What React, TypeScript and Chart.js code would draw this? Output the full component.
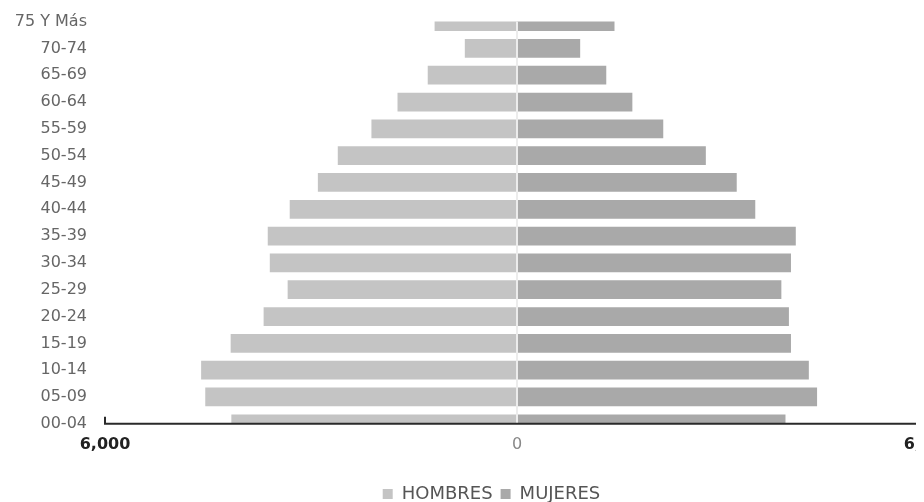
import React, { useEffect, useRef } from "react";
import { Chart, registerables } from "chart.js";

Chart.register(...registerables);

const categories = [
  "75 Y Más", "70-74", "65-69", "60-64", "55-59", "50-54", "45-49", "40-44",
  "35-39", "30-34", "25-29", "20-24", "15-19", "10-14", "05-09", "00-04",
];
const hombres = [1200, 760, 1300, 1740, 2120, 2610, 2900, 3310, 3630, 3600, 3340, 3690, 4170, 4600, 4540, 4160];
const mujeres = [1420, 920, 1300, 1680, 2130, 2750, 3200, 3470, 4060, 3990, 3850, 3960, 3990, 4250, 4370, 3910];
const xTicks = [-6000, 0, 6000];
const seriesNames = ["HOMBRES", "MUJERES"];

const FONT = "'DejaVu Sans', Roboto, sans-serif";

const decorPlugin = {
  id: "decor",
  afterLayout(chart: any) {
    const lg = chart.legend;
    if (lg) {
      lg.left += 23;
      lg.right += 23;
    }
  },
  afterDatasetsDraw(chart: any) {
    const { ctx, chartArea, scales } = chart;
    const x = scales.x;
    const zx = x.getPixelForValue(0);
    ctx.save();
    ctx.strokeStyle = "#ececec";
    ctx.lineWidth = 2;
    ctx.beginPath();
    ctx.moveTo(zx, chartArea.top);
    ctx.lineTo(zx, chartArea.bottom);
    ctx.stroke();
    const lx = x.getPixelForValue(x.min);
    ctx.strokeStyle = "#2a2a2a";
    ctx.lineWidth = 2;
    ctx.beginPath();
    ctx.moveTo(lx, chartArea.bottom - 7);
    ctx.lineTo(lx, chartArea.bottom);
    ctx.lineTo(chartArea.right + 60, chartArea.bottom);
    ctx.stroke();
    ctx.restore();
  },
};

export default function App() {
  const ref = useRef<HTMLCanvasElement | null>(null);
  useEffect(() => {
    document.body.style.overflow = "hidden";
    if (!ref.current) return;
    const chart = new Chart(ref.current, {
      type: "bar",
      data: {
        labels: categories,
        datasets: [
          {
            label: seriesNames[0],
            data: hombres.map((v) => -v),
            backgroundColor: "#c4c4c4",
            barPercentage: 0.7,
            categoryPercentage: 1,
            grouped: false,
          } as any,
          {
            label: seriesNames[1],
            data: mujeres,
            backgroundColor: "#a9a9a9",
            barPercentage: 0.7,
            categoryPercentage: 1,
            grouped: false,
          } as any,
        ],
      },
      options: {
        indexAxis: "y",
        animation: false,
        responsive: true,
        maintainAspectRatio: false,
        layout: { padding: { top: 2, right: 45, left: 0, bottom: 0 } },
        plugins: {
          tooltip: { enabled: false },
          legend: {
            position: "bottom",
            labels: {
              boxWidth: 10,
              boxHeight: 10,
              padding: 8,
              color: "#555",
              font: { family: FONT, size: 18 },
            },
          },
        },
        scales: {
          x: {
            type: "linear",
            min: -6000,
            max: 6000,
            afterBuildTicks(scale: any) {
              scale.ticks = xTicks.map((v) => ({ value: v }));
            },
            afterFit(scale: any) {
              scale.height += 20;
            },
            grid: { display: false, drawTicks: true, tickLength: 8 },
            border: { display: false },
            ticks: {
              padding: 3,
              color: (c: any) => (c.tick && c.tick.value !== 0 ? "#222" : "#888"),
              font: (c: any) => ({
                family: FONT,
                size: 16,
                weight: c.tick && c.tick.value !== 0 ? "bold" : "normal",
              }),
              callback: (v: any) => Math.abs(Number(v)).toLocaleString("en-US"),
            },
          },
          y: {
            type: "category",
            offset: false,
            afterFit(scale: any) {
              scale.width = 97;
            },
            grid: { display: false, drawTicks: true, tickLength: 14 },
            border: { display: false },
            ticks: {
              padding: 4,
              color: "#666",
              font: { family: FONT, size: 16 },
            },
          },
        },
      },
      plugins: [decorPlugin],
    } as any);
    return () => chart.destroy();
  }, []);
  return (
    <div style={{ width: 916, height: 494, overflow: "hidden" }}>
      <div style={{ width: 966, height: 505, position: "relative" }}>
        <canvas ref={ref} />
      </div>
    </div>
  );
}
